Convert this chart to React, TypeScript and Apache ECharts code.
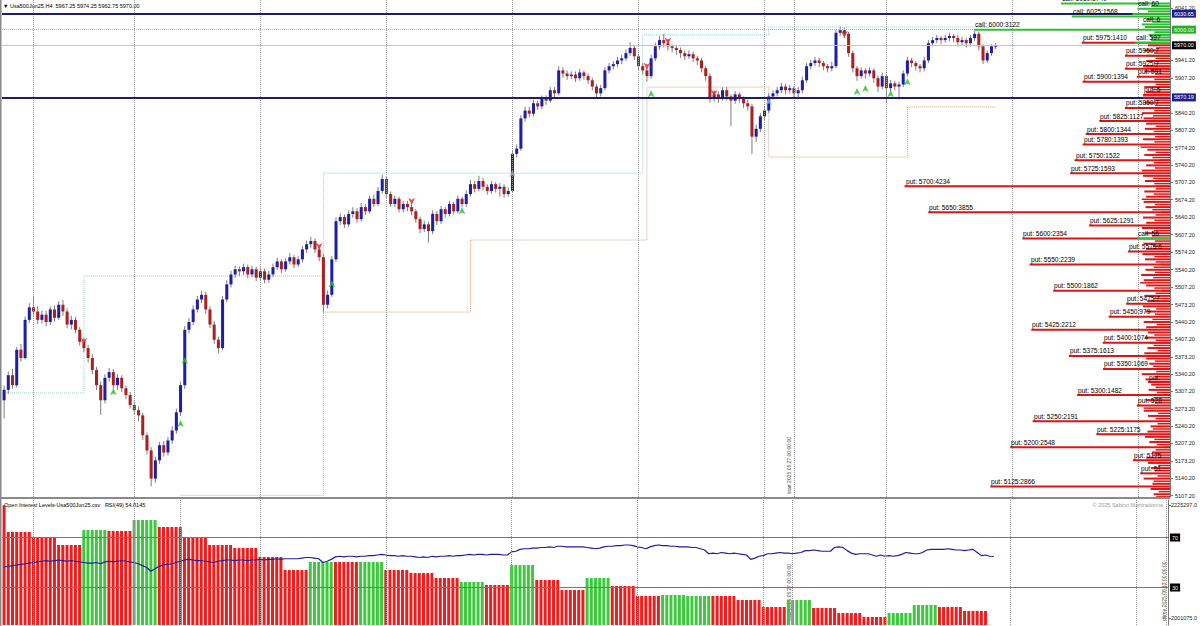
import React, { useEffect, useRef } from "react";
import * as echarts from "echarts";

// ---------- DATA ----------
// H4 candles: [open, close, low, high]
const candles: number[][] = [
  [5290,5310,5255,5318],[5310,5338,5302,5345],[5338,5319,5312,5350],[5319,5387,5315,5392],[5387,5371,5364,5398],
  [5371,5444,5368,5450],[5444,5468,5438,5476],[5468,5460,5452,5490],[5460,5444,5436,5470],[5444,5454,5437,5462],
  [5454,5440,5432,5461],[5440,5464,5434,5470],[5464,5448,5441,5472],[5448,5473,5444,5480],[5473,5460,5452,5482],
  [5460,5435,5428,5466],[5435,5444,5426,5452],[5444,5425,5418,5450],[5425,5402,5395,5430],[5402,5390,5382,5410],
  [5390,5371,5362,5396],[5371,5348,5340,5378],[5348,5319,5310,5354],[5319,5290,5262,5326],[5290,5333,5284,5340],
  [5333,5344,5326,5352],[5344,5319,5312,5350],[5319,5333,5310,5340],[5333,5313,5306,5338],[5313,5300,5292,5318],
  [5300,5281,5274,5306],[5281,5271,5262,5288],[5271,5261,5250,5278],[5261,5223,5214,5266],[5223,5194,5186,5228],
  [5194,5140,5125,5200],[5140,5175,5132,5182],[5175,5204,5168,5210],[5204,5190,5182,5212],[5190,5213,5184,5220],
  [5213,5232,5206,5240],[5232,5267,5226,5274],[5267,5319,5260,5326],[5319,5425,5312,5432],[5425,5440,5418,5448],
  [5440,5464,5434,5472],[5464,5483,5458,5490],[5483,5492,5476,5500],[5492,5464,5456,5498],[5464,5435,5428,5470],
  [5435,5406,5398,5442],[5406,5390,5380,5412],[5390,5483,5386,5490],[5483,5512,5478,5520],[5512,5531,5506,5538],
  [5531,5541,5524,5548],[5541,5537,5528,5546],[5537,5545,5530,5552],[5545,5531,5524,5550],[5531,5541,5526,5548],
  [5541,5525,5518,5546],[5525,5537,5520,5544],[5537,5521,5514,5542],[5521,5531,5515,5538],[5531,5545,5526,5552],
  [5545,5556,5540,5563],[5556,5541,5534,5560],[5541,5556,5536,5562],[5556,5564,5550,5572],[5564,5550,5543,5568],
  [5550,5560,5545,5566],[5560,5579,5554,5586],[5579,5589,5572,5596],[5589,5595,5582,5603],[5595,5579,5572,5600],
  [5579,5564,5556,5584],[5564,5473,5458,5570],[5473,5492,5466,5500],[5492,5560,5488,5566],[5560,5633,5555,5640],
  [5633,5641,5626,5648],[5641,5627,5620,5646],[5627,5647,5622,5654],[5647,5652,5640,5660],[5652,5637,5630,5658],
  [5637,5660,5632,5668],[5660,5652,5645,5666],[5652,5676,5648,5682],[5676,5666,5660,5684],[5666,5691,5662,5698],
  [5691,5714,5686,5722],[5714,5685,5678,5718],[5685,5666,5660,5690],[5666,5676,5660,5682],[5676,5656,5650,5680],
  [5656,5666,5650,5672],[5666,5660,5652,5672],[5660,5652,5644,5666],[5652,5637,5630,5656],[5637,5618,5610,5642],
  [5618,5627,5612,5634],[5627,5614,5592,5632],[5614,5647,5608,5654],[5647,5633,5626,5652],[5633,5656,5628,5662],
  [5656,5647,5640,5660],[5647,5666,5642,5672],[5666,5652,5646,5670],[5652,5676,5648,5682],[5676,5666,5660,5680],
  [5666,5685,5660,5692],[5685,5704,5680,5712],[5704,5695,5688,5710],[5695,5710,5690,5720],[5710,5699,5692,5716],
  [5699,5691,5684,5704],[5691,5704,5686,5710],[5704,5695,5688,5708],[5695,5699,5680,5706],[5699,5685,5678,5704],
  [5685,5691,5680,5698],[5691,5762,5688,5768],[5762,5772,5755,5780],[5772,5830,5768,5836],[5830,5845,5824,5852],
  [5845,5839,5832,5852],[5839,5859,5834,5866],[5859,5853,5846,5864],[5853,5868,5848,5874],[5868,5864,5856,5874],
  [5864,5884,5860,5890],[5884,5878,5870,5890],[5878,5922,5874,5930],[5922,5916,5908,5928],[5916,5911,5904,5922],
  [5911,5914,5905,5920],[5914,5907,5900,5920],[5907,5918,5902,5925],[5918,5911,5904,5922],[5911,5903,5896,5916],
  [5903,5891,5884,5908],[5891,5878,5870,5896],[5878,5888,5872,5894],[5888,5922,5884,5928],[5922,5930,5916,5936],
  [5930,5934,5924,5940],[5934,5941,5928,5948],[5941,5945,5934,5952],[5945,5955,5940,5962],[5955,5965,5950,5976],
  [5965,5949,5942,5970],[5949,5930,5922,5954],[5930,5922,5914,5936],[5922,5911,5900,5928],[5911,5945,5906,5952],
  [5945,5968,5940,5975],[5968,5980,5962,5988],[5980,5974,5966,5992],[5974,5968,5960,5980],[5968,5965,5956,5972],
  [5965,5961,5952,5970],[5961,5955,5946,5966],[5955,5949,5942,5960],[5949,5953,5944,5960],[5953,5945,5938,5958],
  [5945,5941,5932,5950],[5941,5926,5918,5946],[5926,5911,5902,5930],[5911,5868,5860,5916],[5868,5876,5862,5884],
  [5876,5868,5860,5882],[5868,5884,5864,5890],[5884,5872,5864,5890],[5872,5864,5815,5876],[5864,5876,5858,5882],
  [5876,5868,5860,5880],[5868,5859,5850,5872],[5859,5853,5845,5866],[5853,5795,5762,5858],[5795,5810,5785,5818],
  [5810,5834,5804,5840],[5834,5845,5826,5852],[5845,5872,5840,5878],[5872,5878,5866,5884],[5878,5884,5872,5890],
  [5884,5891,5878,5898],[5891,5884,5876,5896],[5884,5888,5878,5894],[5888,5878,5870,5892],[5878,5884,5870,5890],
  [5884,5903,5878,5910],[5903,5930,5898,5936],[5930,5936,5924,5942],[5936,5941,5930,5948],[5941,5936,5928,5946],
  [5936,5930,5922,5940],[5930,5926,5918,5934],[5926,5930,5920,5938],[5930,5994,5926,6000],[5994,5999,5988,6006],
  [5999,5992,5984,6004],[5992,5955,5948,5996],[5955,5926,5918,5960],[5926,5911,5902,5930],[5911,5922,5906,5928],
  [5922,5916,5906,5926],[5916,5922,5910,5928],[5922,5907,5898,5926],[5907,5891,5880,5912],[5891,5911,5886,5918],
  [5911,5888,5860,5914],[5888,5897,5880,5904],[5897,5891,5884,5902],[5891,5895,5866,5900],[5895,5916,5890,5922],
  [5916,5941,5910,5948],[5941,5936,5928,5946],[5936,5930,5922,5940],[5930,5926,5918,5934],[5926,5941,5920,5948],
  [5941,5974,5936,5980],[5974,5980,5968,5986],[5980,5984,5974,5990],[5984,5980,5972,5988],[5980,5984,5975,5990],
  [5984,5988,5978,5994],[5988,5984,5976,5992],[5984,5976,5968,5990],[5976,5980,5970,5986],[5980,5974,5966,5984],
  [5974,5984,5968,5990],[5984,5992,5978,5998],[5992,5968,5960,5996],[5968,5941,5934,5972],[5941,5955,5936,5960],
  [5955,5968,5950,5972],[5967.25,5970.0,5962.75,5974.25],
];

const slotCount = 278;
const categories = Array.from({ length: slotCount }, (_, i) => String(i));

// RSI(49) per candle
const rsiValues: number[] = [
  46.5,47,47.5,48,48.5,49,49.5,50,50.5,51,
  51.5,51,51.5,52,51.5,51,51.5,51,50.5,50,
  49.5,49.5,50,49,50.5,51,50.5,51,51.5,51,
  50.5,50,49,47.5,46,43,45,47,48,48.5,
  49,50,51,52,52.5,52,51.5,51.5,51,50.5,
  50,51,51.5,52,52,51.5,52,52,51.5,52,
  52,52.5,52,52.5,52.5,53,52.5,53,53,53,
  53,53.5,54,54,53.5,53,50,51,52.5,54.5,
  55,54.5,55,55,54.5,55,55,55.5,55.5,56,
  56.5,56,55.5,55.5,55,55.5,55,55,54.5,54,
  54.5,54,55,54.5,55,55,55.5,55,55.5,55.5,
  56,56.5,56,56.5,56.5,56,56.5,56.5,56.5,56,
  56,58.5,59,60.5,61,61,61.5,61.5,62,62,
  62.5,62,63,63,62.5,62.5,62.5,62.5,62.5,62,
  61.5,61,61.5,62.5,63,63,63.5,63.5,64,64,
  63.5,62.5,62,61,62.5,63.5,64,63.5,63.5,63,
  63,62.5,62.5,62.5,62,62,61,60,57,57.5,
  57,58,57.5,57,57.5,57,56.5,56,52.5,53.5,
  55,55.5,57,57,57.5,58,57.5,57.5,57,57.5,
  58,59.5,59.5,60,59.5,59,59,59,62,62.5,
  62,59.5,57.5,56.5,57,57,57,56,55,56,
  55,55.5,55,55.5,56.5,58,57.5,57,57,58,
  60,60.5,60.5,60.5,60.5,61,60.5,60,60,59.5,
  60,60.5,58,55.5,56,55,54.8145,
];

// Open-interest totals: first bar, then one value per session block of 6 bars
const oiFirstBar = 2225000;
const oiBlockValues = [
  2171700,2161780,2145900,2175670,2173680,2195500,2181620,2161780,2145900,2139960,
  2122100,2096300,2112180,2112180,2112180,2096300,2090360,2080440,2072500,2066550,
  2106230,2076470,2056630,2080440,2064560,2044720,2046700,2044720,2044720,2036790,
  2022900,2036790,2020900,2011000,2003060,2011000,2026870,2022900,2014960,
];
const oiBlockGreen = [
  0,0,0,1,0,1,0,0,0,0,
  0,0,1,0,1,0,0,0,1,0,
  1,0,0,1,0,0,1,1,0,0,
  0,1,0,0,0,1,1,0,0,
];
const barsPerBlock = 6;

// Option open-interest levels (labelled)
const putStrikes = [5975,5950,5925,5910,5900,5875,5850,5825,5800,5780,5750,5725,5700,5650,5625,5600,5575,5550,5500,5475,5450,5425,5400,5375,5350,5325,5300,5280,5250,5225,5200,5175,5150,5125];
const putOI = [1410,720,720,530,1394,430,720,1127,1344,1393,1522,1593,4234,3855,1291,2354,670,2239,1862,700,979,2212,1074,1613,1069,350,1482,530,2191,1175,2548,590,475,2866];
const callStrikes = [6050,6025,6000,6040,6010,5975,5600];
const callOI = [1740,1568,3122,520,450,560,520];
// small levels (unlabelled)
const minorPutStrikes = [5110,5120,5130,5140,5160,5170,5180,5190,5210,5220,5230,5240,5260,5270,5290,5310,5320,5330,5340,5360,5370,5380,5390,5410,5420,5430,5440,5460,5470,5480,5490,5510,5520,5530,5540,5560,5570,5580,5590,5610,5620,5630,5640,5660,5670,5680,5690,5710,5720,5730,5740,5760,5770,5790,5810,5820,5830,5840,5860,5870,5880,5890,5920,5930,5940,5960,5970];
const minorPutOI = [260,310,280,420,300,350,380,290,330,400,360,310,350,420,380,340,300,390,450,330,380,410,360,400,350,380,420,390,430,360,410,380,420,460,390,400,440,380,420,400,450,380,430,390,420,380,410,400,430,450,380,410,360,430,400,380,420,450,400,430,380,410,400,430,380,410,350];
const finePutStrikes = [5105,5115,5135,5145,5155,5165,5185,5195,5205,5215,5235,5245,5255,5265,5275,5285,5295,5305,5315,5335,5345,5355,5365,5385,5395,5405,5415,5435,5445,5455,5465,5485,5495,5505,5515,5525,5535,5545,5555,5565,5585,5595,5605,5615,5635,5645,5655,5665,5675,5685,5695,5705,5715,5735,5745,5755,5765,5775,5785,5795,5805,5815,5835,5845,5855,5865,5885,5895,5905,5915,5935,5945,5955,5965];
const finePutOI = [
  220,180,260,200,240,190,280,230,210,250,
  270,200,230,190,420,240,260,210,230,250,
  220,270,240,200,260,230,250,210,280,240,
  220,260,230,250,480,270,240,260,230,250,
  270,240,290,260,250,230,280,240,450,260,
  230,250,270,240,260,280,230,470,250,240,
  260,230,270,250,240,260,280,230,250,240,
  260,230,250,220,
];
const minorCallStrikes = [6045,6035,6030,6020,6015,6005,5995,5990,5985,5980,5950,5925,5900,5850,5800,5750,5700,5650,5550,5500,5400,5300,5200];
const minorCallOI = [300,350,600,380,280,400,250,340,300,300,380,260,240,200,180,160,220,150,140,130,320,120,100];

// Stepped weekly levels: [fromBar, toBar, price]
const upperLevelSegments = [[0,19,5304],[19,76,5528],[76,152,5725],[152,182,5990],[182,236,6005]];
const lowerLevelSegments = [[42,76,5108],[76,111,5459],[111,153,5597],[153,182,5890],[182,215,5756],[215,236,5852]];

// Signal arrows [bar, price]
const redMarks = [[19,5396],[75,5578],[97,5664],[153,5923],[158,5971],[169,5871],[200,5984]];
const greenMarks = [[26,5313],[42,5252],[43,5373],[78,5520],[109,5660],[154,5884],[203,5888],[205,5894],[211,5884],[215,5907]];
const blueMarks = [[121,5731],[182,5869]];

const weekLines = [7, 31, 61, 91, 121, 151, 181, 188, 210, 240, 270];
const subWindowExtraLines = [42, 277];
const priceTickLabels = [6041.2,5941.2,5907.2,5840.2,5807.2,5774.2,5740.2,5707.2,5674.2,5640.2,5607.2,5574.2,5540.2,5507.2,5473.2,5440.2,5407.2,5373.2,5340.2,5307.2,5273.2,5240.2,5207.2,5173.2,5140.2,5107.2];
const levelLines = [6030.65, 5870.19, 5970.0, 6000.0];
const strikeLabel = "strike: 6000(3122)";
const oiScaleLabels = [2001075, 2225297];
const rsiLevels = [70, 30];

// ---------- CHART ----------
const FONT = "Liberation Sans";
const LABEL_FONT_SIZE = 6.6;
const LABEL_CHAR_W = 3.6;

function oiSeries(strikes: number[], ois: number[], kind: string, color: string, z: number, labelled: boolean, width = 2) {
  return {
    type: "custom",
    xAxisIndex: 1,
    yAxisIndex: 0,
    clip: true,
    z,
    silent: true,
    data: strikes.map((s, i) => [ois[i], s]),
    encode: { x: 0, y: 1 },
    renderItem: (_p: any, api: any) => {
      const oi = api.value(0);
      const strike = api.value(1);
      const a = api.coord([oi, strike]);
      const b = api.coord([0, strike]);
      const children: any[] = [
        { type: "line", shape: { x1: a[0], y1: a[1], x2: b[0], y2: b[1] }, style: { stroke: color, lineWidth: width } },
      ];
      if (labelled) {
        const full = `${kind}: ${strike}:${oi}`;
        const maxChars = Math.floor((b[0] - a[0] - 2) / LABEL_CHAR_W);
        const txt = full.slice(0, Math.max(0, maxChars));
        if (txt.length > 0) {
          children.push({
            type: "text",
            x: Math.round(a[0] + 1),
            y: Math.round(a[1] - 1.5),
            style: {
              legacy: false, text: txt, fill: "#000000", fontSize: LABEL_FONT_SIZE, fontFamily: FONT,
              align: "left", verticalAlign: "bottom",
            },
          });
        }
      }
      return { type: "group", children };
    },
  };
}

const segPoints = (segs: number[][]) => segs.flatMap(([a, b, v]) => [[a, v], [b, v]]);
const vLine = (w: number) => ({ xAxis: w, lineStyle: { color: "#9a9a9a", type: "dotted", width: 1 }, label: { show: false } });

export default function App() {
  const ref = useRef<HTMLDivElement>(null);
  useEffect(() => {
    if (!ref.current) return;
    const chart = echarts.init(ref.current, undefined, { renderer: "svg" });

    const histData: any[] = [{ value: oiFirstBar, itemStyle: { color: "#ee1c1c" } }];
    oiBlockValues.forEach((v, k) => {
      for (let j = 0; j < barsPerBlock; j++) {
        histData.push({ value: v, itemStyle: { color: oiBlockGreen[k] ? "#3fc83f" : "#ee1c1c" } });
      }
    });

    const levelStyles = [
      { line: { color: "#1d1d6b", width: 2, type: "solid" }, bg: "#1d1d8a" },
      { line: { color: "#1d1d6b", width: 2, type: "solid" }, bg: "#1d1d8a" },
      { line: { color: "#c4c4c4", width: 1, type: "solid" }, bg: "#000000" },
      { line: { color: "#7ccf7c", width: 1, type: "dotted" }, bg: "#22b022" },
    ];

    const option: any = {
      animation: false,
      backgroundColor: "#ffffff",
      textStyle: { fontFamily: FONT },
      grid: [
        { left: 2, top: 0, width: 1168, height: 497 },
        { left: 2, top: 500, width: 1168, height: 125 },
      ],
      xAxis: [
        { type: "category", gridIndex: 0, data: categories, show: false },
        { type: "value", gridIndex: 0, min: 0, max: 18628, inverse: true, show: false, position: "top" },
        { type: "category", gridIndex: 1, data: categories, show: false },
      ],
      yAxis: [
        {
          type: "value", gridIndex: 0, position: "right", min: 5104.7, max: 6056.8,
          splitLine: { show: false },
          axisLine: { show: true, lineStyle: { color: "#777" } },
          axisTick: { show: true, length: 3, customValues: priceTickLabels, lineStyle: { color: "#777" } },
          axisLabel: { customValues: priceTickLabels, formatter: (v: number) => v.toFixed(2), fontSize: 5.5, color: "#222", margin: 5 },
        },
        {
          type: "value", gridIndex: 1, position: "right", min: 1987187, max: 2235217,
          splitLine: { show: false },
          axisLine: { show: true, lineStyle: { color: "#777" } },
          axisTick: { show: true, length: 3, customValues: oiScaleLabels, lineStyle: { color: "#777" } },
          axisLabel: { customValues: oiScaleLabels, formatter: (v: number) => v.toFixed(1), fontSize: 5.5, color: "#222", margin: 3 },
        },
        { type: "value", gridIndex: 1, position: "right", min: 0, max: 100, show: false, splitLine: { show: false } },
      ],
      series: [
        {
          type: "line", xAxisIndex: 0, yAxisIndex: 0, data: segPoints(upperLevelSegments),
          symbol: "none", silent: true, z: 1,
          lineStyle: { type: "dotted", color: "#8fcfcf", width: 1 },
          markLine: {
            silent: true, symbol: "none", animation: false,
            data: [
              ...weekLines.map(vLine),
              ...levelLines.map((v, i) => ({
                yAxis: v,
                lineStyle: levelStyles[i].line,
                label: {
                  show: true, position: "end", distance: 2, formatter: v.toFixed(2),
                  color: "#fff", backgroundColor: levelStyles[i].bg, padding: [1, 2], fontSize: 5.5,
                },
              })),
              {
                yAxis: levelLines[3],
                lineStyle: { opacity: 0 },
                label: { show: true, position: "insideStartTop", distance: 1, formatter: strikeLabel, color: "#333", fontSize: 5.5 },
              },
            ],
          },
        },
        {
          type: "line", xAxisIndex: 0, yAxisIndex: 0, data: segPoints(lowerLevelSegments),
          symbol: "none", silent: true, z: 1,
          lineStyle: { type: "dotted", color: "#d8a47c", width: 1 },
        },
        {
          type: "custom", xAxisIndex: 0, yAxisIndex: 0, z: 3, silent: true,
          data: candles.map((c, i) => [i, c[0], c[1], c[2], c[3]]),
          encode: { x: 0, y: [1, 2, 3, 4] },
          renderItem: (_p: any, api: any) => {
            const idx = api.value(0);
            const o = api.value(1), c = api.value(2), l = api.value(3), h = api.value(4);
            const pO = api.coord([idx, o]);
            const pC = api.coord([idx, c]);
            const pL = api.coord([idx, l]);
            const pH = api.coord([idx, h]);
            const w = api.size([1, 0])[0] * 0.72;
            const up = c >= o;
            const top = Math.min(pO[1], pC[1]);
            const hh = Math.max(1, Math.abs(pO[1] - pC[1]));
            return {
              type: "group",
              children: [
                { type: "line", shape: { x1: pH[0], y1: pH[1], x2: pL[0], y2: pL[1] }, style: { stroke: "#7d7d7d", lineWidth: 1 } },
                { type: "rect", shape: { x: pO[0] - w / 2, y: top, width: w, height: hh }, style: { fill: up ? "#1e1ea6" : "#aa1f1f" } },
              ],
            };
          },
        },
        {
          type: "scatter", xAxisIndex: 0, yAxisIndex: 0, data: redMarks, symbol: "arrow", symbolSize: [5, 7], symbolRotate: 180,
          itemStyle: { color: "#e02020" }, z: 4, silent: true,
        },
        {
          type: "scatter", xAxisIndex: 0, yAxisIndex: 0, data: greenMarks, symbol: "arrow", symbolSize: [5, 7],
          itemStyle: { color: "#22c022" }, z: 4, silent: true,
        },
        {
          type: "scatter", xAxisIndex: 0, yAxisIndex: 0, data: blueMarks, symbol: "arrow", symbolSize: [5, 7],
          itemStyle: { color: "#7fb8ff" }, z: 4, silent: true,
        },
        oiSeries(finePutStrikes, finePutOI, "put", "#d81818", 5, false, 1.5),
        oiSeries(minorCallStrikes, minorCallOI, "call", "#2fb52f", 5, false),
        oiSeries(minorPutStrikes, minorPutOI, "put", "#dd1515", 5, false),
        oiSeries(putStrikes, putOI, "put", "#dd1515", 6, true),
        oiSeries(callStrikes, callOI, "call", "#2fc02f", 6, true),
        {
          type: "bar", xAxisIndex: 2, yAxisIndex: 1, data: histData, barWidth: 3, silent: true, z: 2,
        },
        {
          type: "line", xAxisIndex: 2, yAxisIndex: 2, data: rsiValues, symbol: "none", silent: true, z: 4,
          lineStyle: { color: "#1e1ea0", width: 1.2 },
          markLine: {
            silent: true, symbol: "none", animation: false,
            data: [
              ...rsiLevels.map((v) => ({
                yAxis: v,
                lineStyle: { color: "#777", width: 1, type: "solid" },
                label: { show: true, position: "end", distance: 2, formatter: String(v), color: "#fff", backgroundColor: "#000", padding: [1, 2], fontSize: 5.5 },
              })),
              ...weekLines.map(vLine),
              ...subWindowExtraLines.map(vLine),
            ],
          },
        },
      ],
      graphic: [
        { type: "rect", shape: { x: 0, y: 497, width: 1170, height: 2 }, style: { fill: "#8a8a8a" }, silent: true },
        { type: "rect", shape: { x: 0, y: 0, width: 1.5, height: 626 }, style: { fill: "#8a8a8a" }, silent: true },
        { type: "text", x: 3, y: 3, style: { text: "▼ Usa500Jun25,H4  5967.25 5974.25 5962.75 5970.00", fontSize: 5.5, fill: "#000", fontFamily: FONT } },
        { type: "text", x: 4, y: 502, style: { text: "Open Interest Levels-Usa500Jun25.csv   RSI(49) 54.8145", fontSize: 5.5, fill: "#000", fontFamily: FONT } },
        { type: "text", x: 1163, y: 502, style: { text: "© 2025 Sabino Martiradonna", fontSize: 5.5, fill: "#9a9a9a", fontFamily: FONT, align: "right" } },
        { type: "text", x: 791, y: 494, rotation: Math.PI / 2, style: { text: "start 2025.05.27 00:00:00", fontSize: 5, fill: "#444", fontFamily: FONT, align: "left", verticalAlign: "bottom" } },
        { type: "text", x: 791, y: 621, rotation: Math.PI / 2, style: { text: "start 2025.05.27 00:00:00", fontSize: 5, fill: "#444", fontFamily: FONT, align: "left", verticalAlign: "bottom" } },
        { type: "text", x: 1166, y: 621, rotation: Math.PI / 2, style: { text: "dtime 2025.06.13 00:00:00", fontSize: 5, fill: "#444", fontFamily: FONT, align: "left", verticalAlign: "bottom" } },
      ],
    };
    chart.setOption(option);
    return () => chart.dispose();
  }, []);

  return <div ref={ref} style={{ position: "absolute", left: 0, top: 0, width: 1200, height: 626, background: "#fff" }} />;
}
